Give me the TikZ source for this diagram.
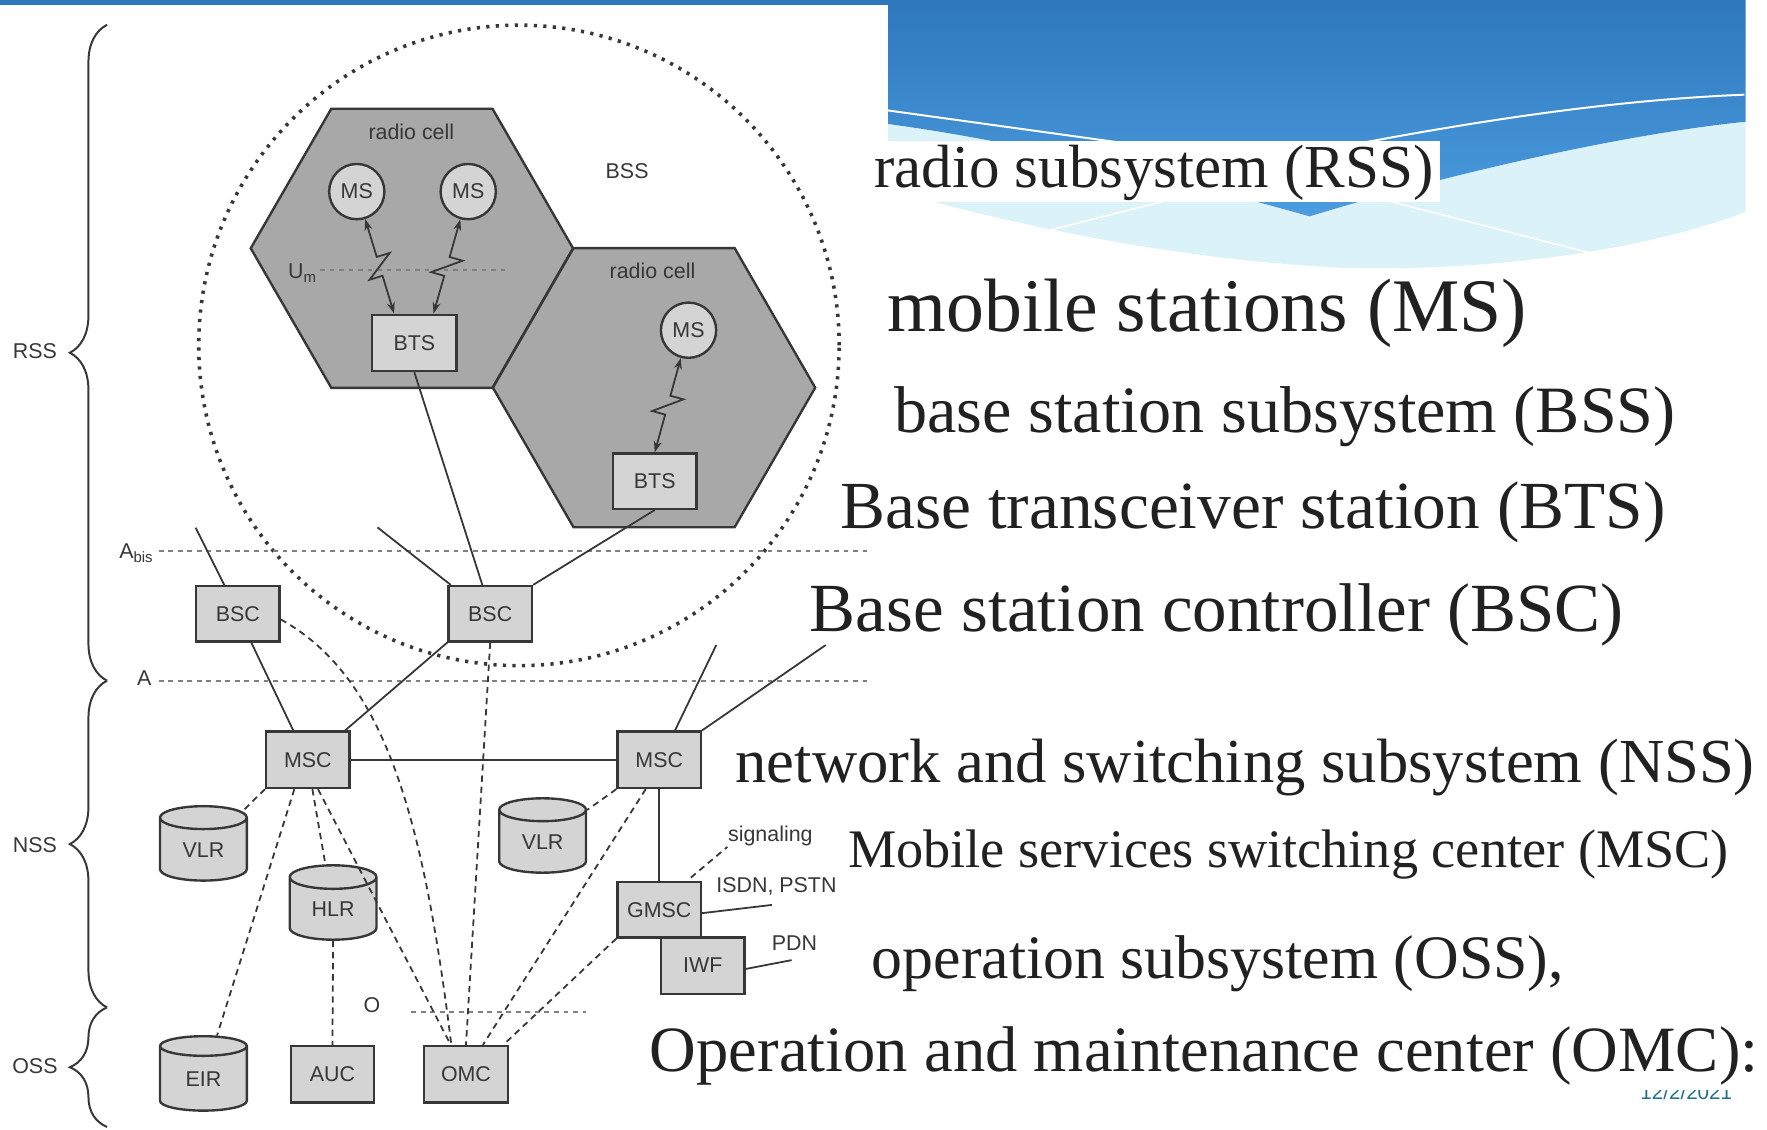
\documentclass[tikz,border=0pt]{standalone}
\usepackage{fontspec}
\setmainfont{Liberation Serif}
\setsansfont{Liberation Sans}
\usetikzlibrary{shapes.geometric, arrows.meta, positioning, calc, decorations.pathreplacing}
\definecolor{cellgray}{RGB}{168,168,168}
\definecolor{boxgray}{RGB}{212,212,212}
\definecolor{linegray}{RGB}{55,55,55}
\definecolor{bannertop}{RGB}{46,119,189}
\definecolor{bannerbot}{RGB}{76,156,223}
\definecolor{wavecyan}{RGB}{219,243,248}
\definecolor{datecolor}{RGB}{31,111,139}

% radio link with a lightning bolt in the middle
\newcommand\radiolink[2]{%
  \path (#1) -- (#2) coordinate[pos=0.4] (#1a) coordinate[pos=0.6] (#1b);
  \draw[radio] (#1) -- (#1a) -- ($(#1a)!0.12cm!90:(#2)$) -- ($(#1b)!0.12cm!-90:(#2)$) -- (#1b) -- (#2);
}

\begin{document}
\begin{tikzpicture}[
    x=0.01cm, y=-0.01cm,
    lbl/.style={font=\sffamily\fontsize{5.4}{6}\selectfont, text=linegray, inner sep=0pt},
    unit/.style={lbl, draw=linegray, line width=0.6pt, fill=boxgray, minimum width=0.74cm, minimum height=0.49cm},
    station/.style={lbl, circle, draw=linegray, line width=0.6pt, fill=boxgray, minimum size=0.49cm},
    db/.style={lbl, cylinder, shape border rotate=90, aspect=0.55, draw=linegray, line width=0.6pt, fill=boxgray, minimum width=0.77cm, minimum height=0.66cm},
    cell/.style={draw=linegray, line width=0.6pt, fill=cellgray},
    link/.style={linegray, line width=0.45pt},
    mgmt/.style={linegray, line width=0.45pt, dash pattern=on 1.6pt off 1.2pt},
    iface/.style={gray, line width=0.45pt, dash pattern=on 1.2pt off 1.2pt},
    radio/.style={linegray, line width=0.45pt, {Stealth[length=1mm,width=0.7mm]}-{Stealth[length=1mm,width=0.7mm]}},
    subsys/.style={decorate, decoration={brace, amplitude=0.33cm}, linegray, line width=0.5pt},
    slide/.style={font=\fontsize{#1}{#1}\selectfont, text=black!87, anchor=base west, inner sep=0pt}
]
    \useasboundingbox (0,0) rectangle (1568,1002);

    % Slide banner
    \fill[bannertop] (0,0) rectangle (788,4.4);
    \fill[wavecyan] (788,110) .. controls (900,125) and (1050,160) .. (1162,192)
        .. controls (1300,150) and (1450,118) .. (1549,108) -- (1549,188)
        .. controls (1460,222) and (1330,240) .. (1200,238)
        .. controls (1050,232) and (900,200) .. (788,168) -- cycle;
    \shade[top color=bannertop, bottom color=bannerbot] (788,0) -- (1549,0) -- (1549,108)
        .. controls (1450,118) and (1300,150) .. (1162,192)
        .. controls (1050,160) and (900,125) .. (788,110) -- cycle;
    \draw[white, line width=0.5pt] (788,98) -- (1120,144) .. controls (1250,118) and (1400,90) .. (1548,84);
    \draw[white, line width=0.4pt] (932,204) -- (1134,153) -- (1417,226);
    \fill[white] (770,125) rectangle (1278,179);

    % BSS area and radio cells
    \draw[linegray, line width=0.9pt, dash pattern=on 0.8pt off 1.6pt] (460.5,306.5) circle[radius=2.84cm];
    \coordinate (c1) at (365.5,220.3);
    \coordinate (c2) at (580.4,344);
    \draw[cell] (c1) ++(0:143) -- ++(120:143) -- ++(180:143) -- ++(240:143) -- ++(300:143) -- ++(0:143) -- cycle;
    \draw[cell] (c2) ++(0:143) -- ++(120:143) -- ++(180:143) -- ++(240:143) -- ++(300:143) -- ++(0:143) -- cycle;
    \node[lbl] (cell1) at (365,117) {radio cell};
    \node[lbl] (cell2) at (579,240) {radio cell};
    \node[lbl] (bss) at (556.5,151.5) {BSS};

    % Interfaces
    \draw[iface] (284,239.3) -- (448,239.3);
    \node[lbl, anchor=east] (um) at (283,242) {U\textsubscript{m}};
    \draw[iface] (141,489) -- (770,489);
    \node[lbl, anchor=east] (abis) at (138,491) {A\textsubscript{bis}};
    \draw[iface] (141,604) -- (770,604);
    \node[lbl] (aif) at (128,602) {A};
    \draw[iface] (365,898) -- (520,898);
    \node[lbl] (oif) at (330,892) {O};

    % Stations
    \node[station] (ms1) at (316.6,170) {MS};
    \node[station] (ms2) at (415.5,170) {MS};
    \node[station] (ms3) at (611,293) {MS};
    \node[unit, minimum width=0.75cm, minimum height=0.5cm] (bts1) at (367.7,304.3) {BTS};
    \node[unit] (bts2) at (581,427) {BTS};
    \node[unit] (bsc1) at (211,544.6) {BSC};
    \node[unit] (bsc2) at (435,544.6) {BSC};
    \node[unit, minimum height=0.5cm] (msc1) at (273.2,674.2) {MSC};
    \node[unit, minimum height=0.5cm] (msc2) at (585,674.2) {MSC};
    \node[db] (vlr1) at (180.5,754) {VLR};
    \node[db] (vlr2) at (481.5,747) {VLR};
    \node[db] (hlr) at (295.6,806.6) {HLR};
    \node[unit] (gmsc) at (585,807.3) {GMSC};
    \node[unit, minimum height=0.5cm] (iwf) at (623.7,856.8) {IWF};
    \node[db] (eir) at (180.5,957.4) {EIR};
    \node[unit, minimum height=0.5cm] (auc) at (295,953.3) {AUC};
    \node[unit, minimum height=0.5cm] (omc) at (413.5,953.3) {OMC};

    % Radio links
    \coordinate (up1) at ($(bts1.north)+(-18,0)$);
    \coordinate (up2) at ($(bts1.north)+(17,0)$);
    \radiolink{ms1}{up1}
    \radiolink{ms2}{up2}
    \radiolink{ms3}{bts2.north}

    % Wired links
    \coordinate (bts3) at (173.7,468.3);
    \coordinate (bts4) at (335,468);
    \coordinate (bsc3) at (635.6,572.4);
    \coordinate (bsc4) at (732.7,572.4);
    \draw[link] (bts3) -- ($(bsc1.north)+(-12,0)$);
    \draw[link] (bts4) -- ($(bsc2.north)+(-35,0)$);
    \draw[link] (bts1.south) -- ($(bsc2.north)+(-7,0)$);
    \draw[link] (bts2.south) -- (bsc2.north east);
    \draw[link] ($(bsc1.south)+(12,0)$) -- ($(msc1.north)+(-13,0)$);
    \draw[link] (bsc2.south west) -- ($(msc1.north east)+(-5,0)$);
    \draw[link] (msc1.east) -- (msc2.west);
    \draw[link] (bsc3) -- ($(msc2.north)+(14,0)$);
    \draw[link] (bsc4) -- (msc2.north east);
    \draw[link] (msc2.south) -- (gmsc.north);

    % Management links
    \draw[mgmt] (msc1.south west) -- (vlr1);
    \draw[mgmt] ($(msc1.south)+(-12,0)$) -- (eir);
    \draw[mgmt] ($(msc1.south)+(4,0)$) -- (hlr);
    \draw[mgmt] ($(msc1.south)+(9,0)$) -- (omc);
    \draw[mgmt] ($(bsc1.east)+(0,5)$) .. controls (340,600) and (375,720) .. ($(omc.north)+(-13,0)$);
    \draw[mgmt] (bsc2.south) -- (omc.north);
    \draw[mgmt] ($(msc2.south)+(-12,0)$) -- ($(omc.north)+(15,0)$);
    \draw[mgmt] (gmsc.south west) -- ($(omc.north east)+(-5,0)$);
    \draw[mgmt] (msc2.south west) -- (vlr2);
    \draw[mgmt] (hlr.south) -- (auc.north);

    % External networks
    \node[lbl] (sig) at (683.6,742) {signaling};
    \node[lbl] (isdn) at (689,787) {ISDN, PSTN};
    \node[lbl] (pdnlbl) at (705,837) {PDN};
    \coordinate (pstn) at (685,803);
    \coordinate (pdn) at (702.5,852);
    \draw[mgmt] ($(gmsc.north east)+(-10,-3)$) -- (sig.south west);
    \draw[link] ($(gmsc.east)+(0,3)$) -- (pstn);
    \draw[link] ($(iwf.east)+(0,3)$) -- (pdn);

    % Subsystems
    \draw[subsys] (95,604) -- (95,22);
    \draw[subsys] (95,894) -- (95,604);
    \draw[subsys] (95,1000) -- (95,894);
    \node[lbl] (rss) at (31,312) {RSS};
    \node[lbl] (nss) at (31,750) {NSS};
    \node[lbl] (oss) at (31,946) {OSS};

    % Slide text
    \node[slide=15.4] (rssline) at (775,166) {radio subsystem (RSS)};
    \node[slide=19.1] (msline) at (787,294) {mobile stations (MS)};
    \node[slide=16.7] (bssline) at (793,384) {base station subsystem (BSS)};
    \node[slide=17.0] (btsline) at (745,469) {Base transceiver station (BTS)};
    \node[slide=17.4] (bscline) at (718,560) {Base station controller (BSC)};
    \node[slide=15.8] (nssline) at (652,694) {network and switching subsystem (NSS)};
    \node[slide=13.7] (mscline) at (752,770) {Mobile services switching center (MSC)};
    \node[slide=15.6] (ossline) at (773,868) {operation subsystem (OSS),};
    \node[slide=16.3] (omcline) at (576,951) {Operation and maintenance center (OMC):};
    \begin{scope}
        \clip (1440,968) rectangle (1565,990);
        \node[font=\sffamily\fontsize{5.2}{6}\selectfont, text=datecolor, anchor=base west, inner sep=0pt] (date) at (1455,976) {12/2/2021};
    \end{scope}
\end{tikzpicture}
\end{document}
